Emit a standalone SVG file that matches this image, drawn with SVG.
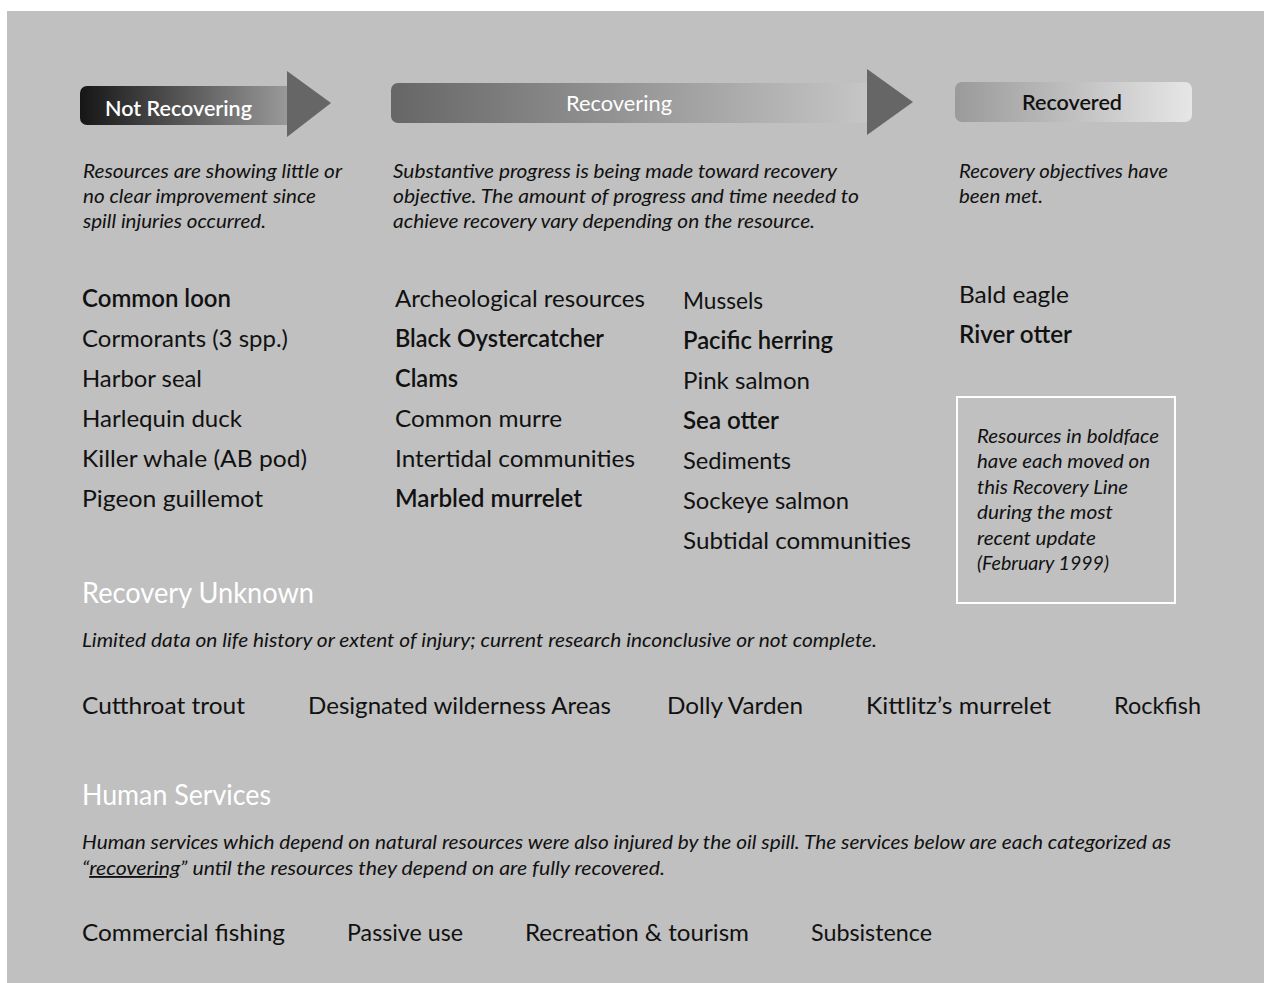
<svg xmlns="http://www.w3.org/2000/svg" width="1264" height="983" viewBox="0 0 1264 983">
<defs>
<linearGradient id="gNot" x1="80" y1="0" x2="292" y2="0" gradientUnits="userSpaceOnUse">
<stop offset="0" stop-color="#161616"/><stop offset="1" stop-color="#9c9c9c"/>
</linearGradient>
<linearGradient id="gRec" x1="391" y1="0" x2="870" y2="0" gradientUnits="userSpaceOnUse">
<stop offset="0" stop-color="#666666"/><stop offset="1" stop-color="#c6c6c6"/>
</linearGradient>
<linearGradient id="gDone" x1="955" y1="0" x2="1192" y2="0" gradientUnits="userSpaceOnUse">
<stop offset="0" stop-color="#9a9a9a"/><stop offset="1" stop-color="#e6e6e6"/>
</linearGradient>
<style>
text{font-family:Lato,"Noto Sans","Liberation Sans",sans-serif;fill:#111}
.item{font-size:24px}
.b{font-weight:600}
.desc{font-size:18.5px;font-style:italic}
.note{font-size:18.5px;font-style:italic}
.head{font-size:28px;fill:#ffffff}
.lab{font-size:21px;font-weight:600}
.w{fill:#ffffff}
</style>
</defs>
<rect x="0" y="0" width="1264" height="983" fill="#ffffff"/>
<rect x="7" y="11" width="1257" height="972" fill="#c0c0c0"/>

<g id="not-recovering">
<rect x="80" y="86" width="215" height="39" rx="7" fill="url(#gNot)"/>
<polygon points="287,71 331,103 287,137" fill="#666666"/>
<text class="lab w" x="105" y="116" textLength="147" lengthAdjust="spacingAndGlyphs">Not Recovering</text>
</g>
<g id="recovering">
<rect x="391" y="83" width="480" height="40" rx="7" fill="url(#gRec)"/>
<polygon points="867,69 913,102 867,135" fill="#666666"/>
<text class="lab w" x="566" y="111" textLength="106" lengthAdjust="spacingAndGlyphs" style="font-weight:normal">Recovering</text>
</g>
<g id="recovered">
<rect x="955" y="82" width="237" height="40" rx="7" fill="url(#gDone)"/>
<text class="lab" x="1022" y="110" textLength="100" lengthAdjust="spacingAndGlyphs">Recovered</text>
</g>

<g id="desc-not">
<text class="desc" x="83" y="178" textLength="259" lengthAdjust="spacingAndGlyphs">Resources are showing little or</text>
<text class="desc" x="83" y="203" textLength="233" lengthAdjust="spacingAndGlyphs">no clear improvement since</text>
<text class="desc" x="83" y="228" textLength="183" lengthAdjust="spacingAndGlyphs">spill injuries occurred.</text>
</g>
<g id="desc-recovering">
<text class="desc" x="393" y="178" textLength="444" lengthAdjust="spacingAndGlyphs">Substantive progress is being made toward recovery</text>
<text class="desc" x="393" y="203" textLength="466" lengthAdjust="spacingAndGlyphs">objective. The amount of progress and time needed to</text>
<text class="desc" x="393" y="228" textLength="422" lengthAdjust="spacingAndGlyphs">achieve recovery vary depending on the resource.</text>
</g>
<g id="desc-recovered">
<text class="desc" x="959" y="178" textLength="209" lengthAdjust="spacingAndGlyphs">Recovery objectives have</text>
<text class="desc" x="959" y="203" textLength="84" lengthAdjust="spacingAndGlyphs">been met.</text>
</g>

<g id="list-not-recovering">
<text class="item b" x="82" y="307" textLength="149" lengthAdjust="spacingAndGlyphs">Common loon</text>
<text class="item" x="82" y="347" textLength="206" lengthAdjust="spacingAndGlyphs">Cormorants (3 spp.)</text>
<text class="item" x="82" y="387" textLength="120" lengthAdjust="spacingAndGlyphs">Harbor seal</text>
<text class="item" x="82" y="427" textLength="160" lengthAdjust="spacingAndGlyphs">Harlequin duck</text>
<text class="item" x="82" y="467" textLength="225" lengthAdjust="spacingAndGlyphs">Killer whale (AB pod)</text>
<text class="item" x="82" y="507" textLength="181" lengthAdjust="spacingAndGlyphs">Pigeon guillemot</text>
</g>
<g id="list-recovering-1">
<text class="item" x="395" y="307" textLength="250" lengthAdjust="spacingAndGlyphs">Archeological resources</text>
<text class="item b" x="395" y="347" textLength="209" lengthAdjust="spacingAndGlyphs">Black Oystercatcher</text>
<text class="item b" x="395" y="387" textLength="63" lengthAdjust="spacingAndGlyphs">Clams</text>
<text class="item" x="395" y="427" textLength="167" lengthAdjust="spacingAndGlyphs">Common murre</text>
<text class="item" x="395" y="467" textLength="240" lengthAdjust="spacingAndGlyphs">Intertidal communities</text>
<text class="item b" x="395" y="507" textLength="187" lengthAdjust="spacingAndGlyphs">Marbled murrelet</text>
</g>
<g id="list-recovering-2">
<text class="item" x="683" y="309" textLength="80" lengthAdjust="spacingAndGlyphs">Mussels</text>
<text class="item b" x="683" y="349" textLength="150" lengthAdjust="spacingAndGlyphs">Pacific herring</text>
<text class="item" x="683" y="389" textLength="127" lengthAdjust="spacingAndGlyphs">Pink salmon</text>
<text class="item b" x="683" y="429" textLength="96" lengthAdjust="spacingAndGlyphs">Sea otter</text>
<text class="item" x="683" y="469" textLength="108" lengthAdjust="spacingAndGlyphs">Sediments</text>
<text class="item" x="683" y="509" textLength="166" lengthAdjust="spacingAndGlyphs">Sockeye salmon</text>
<text class="item" x="683" y="549" textLength="228" lengthAdjust="spacingAndGlyphs">Subtidal communities</text>
</g>
<g id="list-recovered">
<text class="item" x="959" y="303" textLength="110" lengthAdjust="spacingAndGlyphs">Bald eagle</text>
<text class="item b" x="959" y="343" textLength="113" lengthAdjust="spacingAndGlyphs">River otter</text>
</g>

<g id="boldface-note">
<rect x="957" y="397" width="218" height="206" fill="none" stroke="#ffffff" stroke-width="2"/>
<text class="note" x="977" y="443" textLength="182" lengthAdjust="spacingAndGlyphs">Resources in boldface</text>
<text class="note" x="977" y="468" textLength="173" lengthAdjust="spacingAndGlyphs">have each moved on</text>
<text class="note" x="977" y="494" textLength="151" lengthAdjust="spacingAndGlyphs">this Recovery Line</text>
<text class="note" x="977" y="519" textLength="136" lengthAdjust="spacingAndGlyphs">during the most</text>
<text class="note" x="977" y="545" textLength="119" lengthAdjust="spacingAndGlyphs">recent update</text>
<text class="note" x="977" y="570" textLength="132" lengthAdjust="spacingAndGlyphs">(February 1999)</text>
</g>

<g id="recovery-unknown">
<text class="head" x="82" y="603" textLength="232" lengthAdjust="spacingAndGlyphs">Recovery Unknown</text>
<text class="desc" x="82" y="647" textLength="795" lengthAdjust="spacingAndGlyphs">Limited data on life history or extent of injury; current research inconclusive or not complete.</text>
<text class="item" x="82" y="714" textLength="163" lengthAdjust="spacingAndGlyphs">Cutthroat trout</text>
<text class="item" x="308" y="714" textLength="303" lengthAdjust="spacingAndGlyphs">Designated wilderness Areas</text>
<text class="item" x="667" y="714" textLength="136" lengthAdjust="spacingAndGlyphs">Dolly Varden</text>
<text class="item" x="866" y="714" textLength="185" lengthAdjust="spacingAndGlyphs">Kittlitz’s murrelet</text>
<text class="item" x="1114" y="714" textLength="87" lengthAdjust="spacingAndGlyphs">Rockfish</text>
</g>

<g id="human-services">
<text class="head" x="82" y="805" textLength="189" lengthAdjust="spacingAndGlyphs">Human Services</text>
<text class="desc" x="82" y="849" textLength="1089" lengthAdjust="spacingAndGlyphs">Human services which depend on natural resources were also injured by the oil spill. The services below are each categorized as</text>
<text class="desc" x="82" y="875" textLength="583" lengthAdjust="spacingAndGlyphs">“<tspan text-decoration="underline">recovering</tspan>” until the resources they depend on are fully recovered.</text>
<text class="item" x="82" y="941" textLength="203" lengthAdjust="spacingAndGlyphs">Commercial fishing</text>
<text class="item" x="347" y="941" textLength="116" lengthAdjust="spacingAndGlyphs">Passive use</text>
<text class="item" x="525" y="941" textLength="224" lengthAdjust="spacingAndGlyphs">Recreation &amp; tourism</text>
<text class="item" x="811" y="941" textLength="121" lengthAdjust="spacingAndGlyphs">Subsistence</text>
</g>
</svg>
